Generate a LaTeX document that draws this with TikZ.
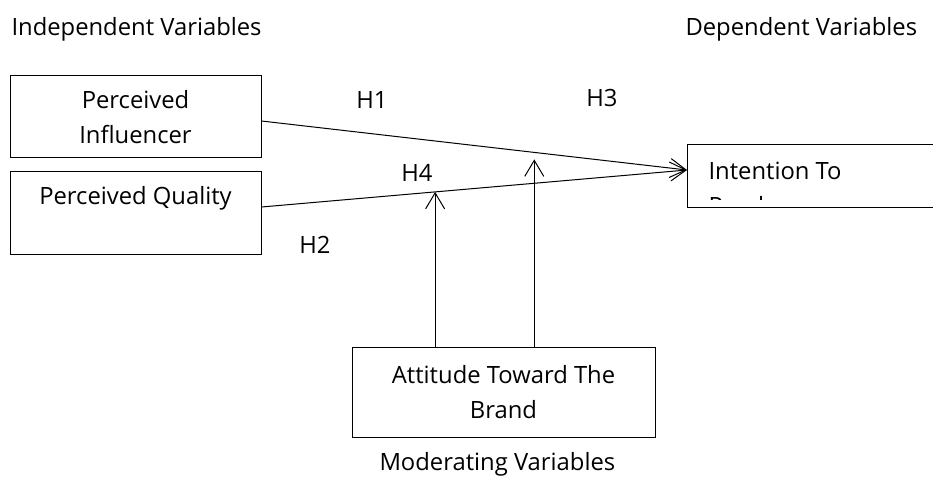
\documentclass[tikz,border=0pt]{standalone}
\usepackage{fontspec}
\setmainfont{Open Sans}
\usetikzlibrary{arrows.meta,positioning}
\tikzset{
    box/.style={
           rectangle,
           draw=black, line width=1pt,
           minimum width=251pt,
           minimum height=82pt,
           align=center,
           inner sep=0pt
           },
    hyp/.style={
           inner sep=0pt
           },
    heading/.style={
           anchor=base west,
           inner sep=0pt
           }
}
\begin{document}
\begin{tikzpicture}[x=1pt, y=-1pt, >={Straight Barb[length=16pt,width=19pt]},
    line width=1pt, font=\fontsize{23.8}{35}\selectfont]
\useasboundingbox (0,0) rectangle (933,478);
\clip (0,0) rectangle (933,478);
   \node[heading] (indep) at (11,36) {Independent Variables};
   \node[heading] (dep) at (685,36) {Dependent Variables};
   \node[box] (infl) at (135.5,117) {Perceived\\Influencer};
   \node[box] (qual) [below=13pt of infl] {Perceived Quality\\~};
   \node[box, minimum width=260pt, minimum height=63pt, anchor=north west] (intent) at (687,144) {};
   \begin{scope}
     \clip (intent.north west) rectangle (933,200);
     \node[align=left, anchor=north west, inner sep=0pt] (intentlbl) at (708,162) {Intention To\\Purchase};
   \end{scope}
   \node[box, minimum width=303pt, minimum height=90pt] (att) at (503.5,392) {Attitude Toward The\\Brand};
   \node[heading] (mod) at (379,470) {Moderating Variables};
   \coordinate (tip) at (687,170);
   \draw[->] ([yshift=-4pt]infl.east) -- coordinate[pos=0.641] (m1) (tip);
   \draw[->] ([yshift=6pt]qual.east) -- coordinate[pos=0.408] (m2) (tip);
   \draw[->] (att.north -| m2) -- (m2);
   \draw[->] (att.north -| m1) -- ([yshift=-7pt]m1);
   \node[hyp] (h1) at (372,100) {H1};
   \node[hyp] (h3) at (602,98) {H3};
   \node[hyp] (h4) at (417,173) {H4};
   \node[hyp] (h2) at (315,245) {H2};
\end{tikzpicture}
\end{document}
